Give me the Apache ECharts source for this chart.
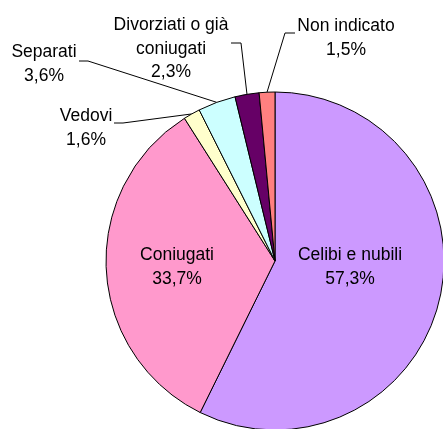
<!DOCTYPE html>
<html>
<head>
<meta charset="utf-8">
<script src="https://cdn.jsdelivr.net/npm/echarts@6/dist/echarts.min.js"></script>
<style>
  html, body { margin: 0; padding: 0; background: #fff; }
  #chart { width: 443px; height: 429px; }
</style>
</head>
<body>
<div id="chart"></div>
<script>
// categories and shares (%), clockwise from 12 o'clock
var categories = ["Celibi e nubili", "Coniugati", "Vedovi", "Separati", "Divorziati o già\nconiugati", "Non indicato"];
var shares = [57.3, 33.7, 1.6, 3.6, 2.3, 1.5];
var colors = ["#CC99FF", "#FF99CC", "#FFFFCC", "#CCFFFF", "#660066", "#FF8080"];

// label block centre, leader elbow, leader end (null = label inside the slice)
var labelPos = [
  [350, 267, null, null],
  [177, 267, null, null],
  [86, 128, [123, 123], [114, 123]],
  [44, 64, [88, 61], [79, 61]],
  [171, 49, [241, 43], [231, 43]],
  [346, 38, [285, 33], [295, 33]]
];

var chart = echarts.init(document.getElementById("chart"));

var pieData = categories.map(function (name, i) {
  return {
    name: name,
    value: shares[i],
    itemStyle: { color: colors[i] },
    labelLine: { show: labelPos[i][2] != null }
  };
});

chart.setOption({
  animation: false,
  series: [
    {
      type: "pie",
      center: [275, 261],
      radius: 169,
      startAngle: 90,
      clockwise: true,
      avoidLabelOverlap: false,
      itemStyle: { borderColor: "#000", borderWidth: 1 },
      label: {
        show: true,
        position: "outside",
        color: "#000",
        fontFamily: "Liberation Sans, Arial, sans-serif",
        fontSize: 17.5,
        lineHeight: 23.5,
        align: "center",
        formatter: function (p) {
          return p.name + "\n" + p.value.toFixed(1).replace(".", ",") + "%";
        }
      },
      labelLine: {
        show: true,
        lineStyle: { color: "#000", width: 1 }
      },
      labelLayout: function (params) {
        var p = labelPos[params.dataIndex];
        var out = { x: p[0], y: p[1], align: "center", verticalAlign: "middle" };
        if (p[2] && params.labelLinePoints) {
          out.labelLinePoints = [params.labelLinePoints[0], p[2], p[3]];
        }
        return out;
      },
      emphasis: { disabled: true },
      data: pieData
    }
  ]
});
</script>
</body>
</html>
